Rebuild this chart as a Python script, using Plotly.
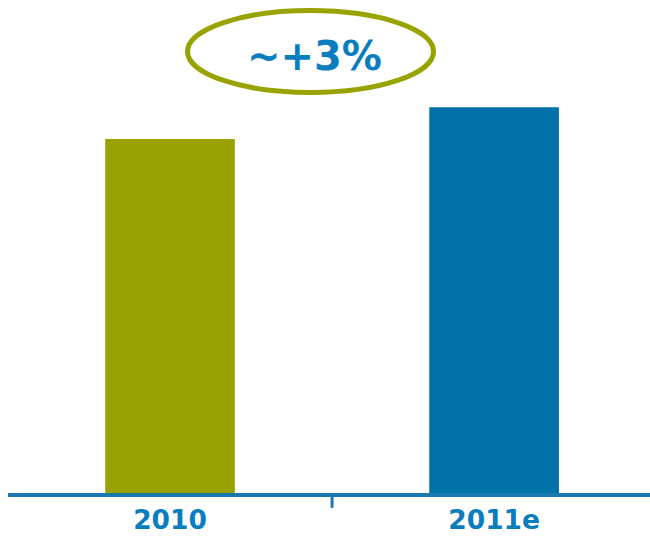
import plotly.graph_objects as go

years = ["2010", "2011e"]
values = [100, 109]
bar_colors = ["#98A300", "#0072A7"]
growth_label = "~+3%"

fig = go.Figure()

fig.add_trace(
    go.Bar(
        x=years,
        y=values,
        marker=dict(color=bar_colors, line=dict(width=0)),
        width=0.4,
        showlegend=False,
        hoverinfo="skip",
    )
)

# tick mark between categories
fig.add_shape(
    type="line",
    xref="x",
    yref="paper",
    x0=0.5,
    x1=0.5,
    y0=0,
    y1=-0.03,
    line=dict(color="#1A78B0", width=3),
)

# ellipse around growth label
fig.add_shape(
    type="circle",
    xref="paper",
    yref="paper",
    x0=0.2796,
    x1=0.6628,
    y0=0.8124,
    y1=0.9787,
    line=dict(color="#98A300", width=5),
    fillcolor="rgba(0,0,0,0)",
)

fig.add_annotation(
    text=f"<b>{growth_label}</b>",
    xref="paper",
    yref="paper",
    x=0.4774,
    y=0.8864,
    xanchor="center",
    yanchor="middle",
    showarrow=False,
    font=dict(family="DejaVu Sans", size=40, color="#0A7DC0"),
)

fig.update_layout(
    width=650,
    height=537,
    margin=dict(l=8, r=0, t=0, b=44),
    plot_bgcolor="white",
    paper_bgcolor="white",
    xaxis=dict(
        type="category",
        range=[-0.5, 1.481],
        showline=True,
        linecolor="#1A78B0",
        linewidth=4,
        showgrid=False,
        zeroline=False,
        ticks="",
        tickfont=dict(family="DejaVu Sans", size=26.5, color="#0A7DC0", weight="bold"),
        fixedrange=True,
    ),
    yaxis=dict(
        range=[0, 139.3],
        visible=False,
        showgrid=False,
        zeroline=False,
        fixedrange=True,
    ),
)

# drop the default page margin so the figure sits at the window corner
fig.write_html(
    "out.html",
    config={"displayModeBar": False},
    post_script="document.body.style.margin='0';",
)
